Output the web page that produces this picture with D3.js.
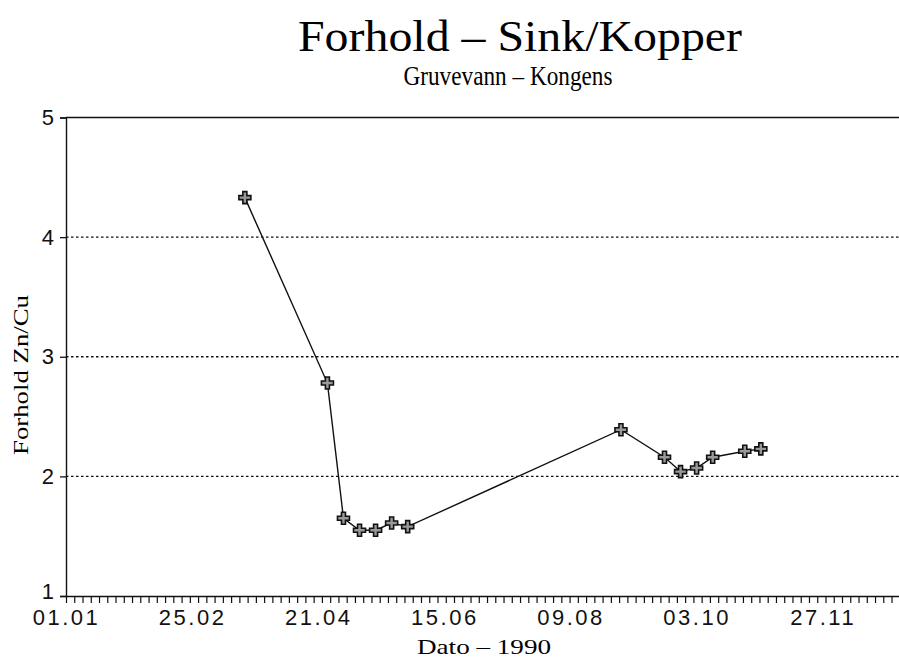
<!DOCTYPE html>
<html>
<head>
<meta charset="utf-8">
<script src="https://cdn.jsdelivr.net/npm/d3@7"></script>
<style>
  body { margin: 0; background: #fff; }
  svg { display: block; }
</style>
</head>
<body>
<svg id="chart" width="899" height="661"></svg>
<script>
// sample dates (1990) and Zn/Cu ratio
const sampleDates = ["1990-03-20", "1990-04-25", "1990-05-02", "1990-05-09", "1990-05-16",
  "1990-05-23", "1990-05-30", "1990-08-31", "1990-09-19", "1990-09-26", "1990-10-03",
  "1990-10-10", "1990-10-24", "1990-10-31"];
const ratios = [4.33, 2.78, 1.65, 1.55, 1.55, 1.61, 1.58, 2.39, 2.16, 2.04, 2.07, 2.16, 2.21, 2.23];

const xTickDates = ["1990-01-01", "1990-02-25", "1990-04-21", "1990-06-15", "1990-08-09", "1990-10-03", "1990-11-27"];
const xTickLabels = ["01.01", "25.02", "21.04", "15.06", "09.08", "03.10", "27.11"];
const yTicks = [1, 2, 3, 4, 5];
const gridValues = [2, 3, 4];

const parse = d3.timeParse("%Y-%m-%d");
const data = sampleDates.map((d, i) => ({ date: parse(d), value: ratios[i] }));

const svg = d3.select("#chart");

const x = d3.scaleTime()
    .domain([parse("1990-01-01"), parse("1991-01-01")])
    .range([66, 903]);
const y = d3.scaleLinear().domain([1, 5]).range([596, 117.5]);

// titles
svg.append("text")
    .attr("x", 520).attr("y", 51)
    .attr("text-anchor", "middle")
    .attr("textLength", 444).attr("lengthAdjust", "spacingAndGlyphs")
    .style("font-family", "Liberation Serif, serif").style("font-size", "44px")
    .text("Forhold \u2013 Sink/Kopper");
svg.append("text")
    .attr("x", 508).attr("y", 85)
    .attr("text-anchor", "middle")
    .attr("textLength", 209).attr("lengthAdjust", "spacingAndGlyphs")
    .style("font-family", "Liberation Serif, serif").style("font-size", "28px")
    .text("Gruvevann \u2013 Kongens");

// grid
svg.append("g").selectAll("line")
    .data(gridValues).enter().append("line")
    .attr("x1", 66).attr("x2", 903)
    .attr("y1", d => y(d)).attr("y2", d => y(d))
    .attr("stroke", "#111").attr("stroke-width", 1.3)
    .attr("stroke-dasharray", "2.5,2.5");
svg.append("line")
    .attr("x1", 66).attr("x2", 903)
    .attr("y1", y(5)).attr("y2", y(5))
    .attr("stroke", "#111").attr("stroke-width", 1.6);

// y axis
const yAxis = svg.append("g")
    .attr("transform", "translate(66,0)")
    .call(d3.axisLeft(y).tickValues(yTicks).tickFormat(d3.format("d")).tickSize(6).tickPadding(6));
yAxis.select(".domain").attr("stroke", "#111").attr("stroke-width", 1.4);
yAxis.selectAll(".tick line").attr("stroke", "#111").attr("stroke-width", 1.3);
yAxis.selectAll("text")
    .style("font-family", "Liberation Sans, Arial, sans-serif").style("font-size", "22px")
    .attr("fill", "#111")
    .attr("dy", d => d === 1 ? "0.1em" : "0.32em");

// x axis: minor ticks
const start = parse("1990-01-01").getTime();
const minorTicks = d3.range(0, 366, 3.6).map(d => new Date(start + d * 864e5));
const xMinor = svg.append("g")
    .attr("transform", "translate(0,596)")
    .call(d3.axisBottom(x).tickValues(minorTicks).tickFormat("").tickSize(7).tickSizeOuter(0));
xMinor.select(".domain").attr("stroke", "#111").attr("stroke-width", 1.6);
xMinor.selectAll(".tick line").attr("stroke", "#111").attr("stroke-width", 1.2);

// x axis: labels
const xLab = svg.append("g")
    .attr("transform", "translate(0,596)")
    .call(d3.axisBottom(x).tickValues(xTickDates.map(parse))
      .tickFormat((d, i) => xTickLabels[i]).tickSize(0).tickPadding(13));
xLab.select(".domain").remove();
xLab.selectAll("text")
    .style("font-family", "Liberation Sans, Arial, sans-serif").style("font-size", "22px")
    .style("letter-spacing", "2.5px")
    .attr("fill", "#111");

// axis titles
svg.append("text")
    .attr("x", 484).attr("y", 654)
    .attr("text-anchor", "middle")
    .attr("textLength", 134).attr("lengthAdjust", "spacingAndGlyphs")
    .style("font-family", "Liberation Serif, serif").style("font-size", "21px")
    .text("Dato \u2013 1990");
svg.append("text")
    .attr("transform", "translate(28,375) rotate(-90)")
    .attr("text-anchor", "middle")
    .attr("textLength", 160).attr("lengthAdjust", "spacingAndGlyphs")
    .style("font-family", "Liberation Serif, serif").style("font-size", "20px")
    .text("Forhold Zn/Cu");

// series
const line = d3.line().x(d => x(d.date)).y(d => y(d.value));
svg.append("path")
    .datum(data)
    .attr("d", line)
    .attr("fill", "none").attr("stroke", "#111").attr("stroke-width", 1.4);

svg.append("g").selectAll("path")
    .data(data).enter().append("path")
    .attr("transform", d => `translate(${x(d.date)},${y(d.value)})`)
    .attr("d", d3.symbol().type(d3.symbolCross).size(80))
    .attr("fill", "#999").attr("stroke", "#111").attr("stroke-width", 1.6);
</script>
</body>
</html>
